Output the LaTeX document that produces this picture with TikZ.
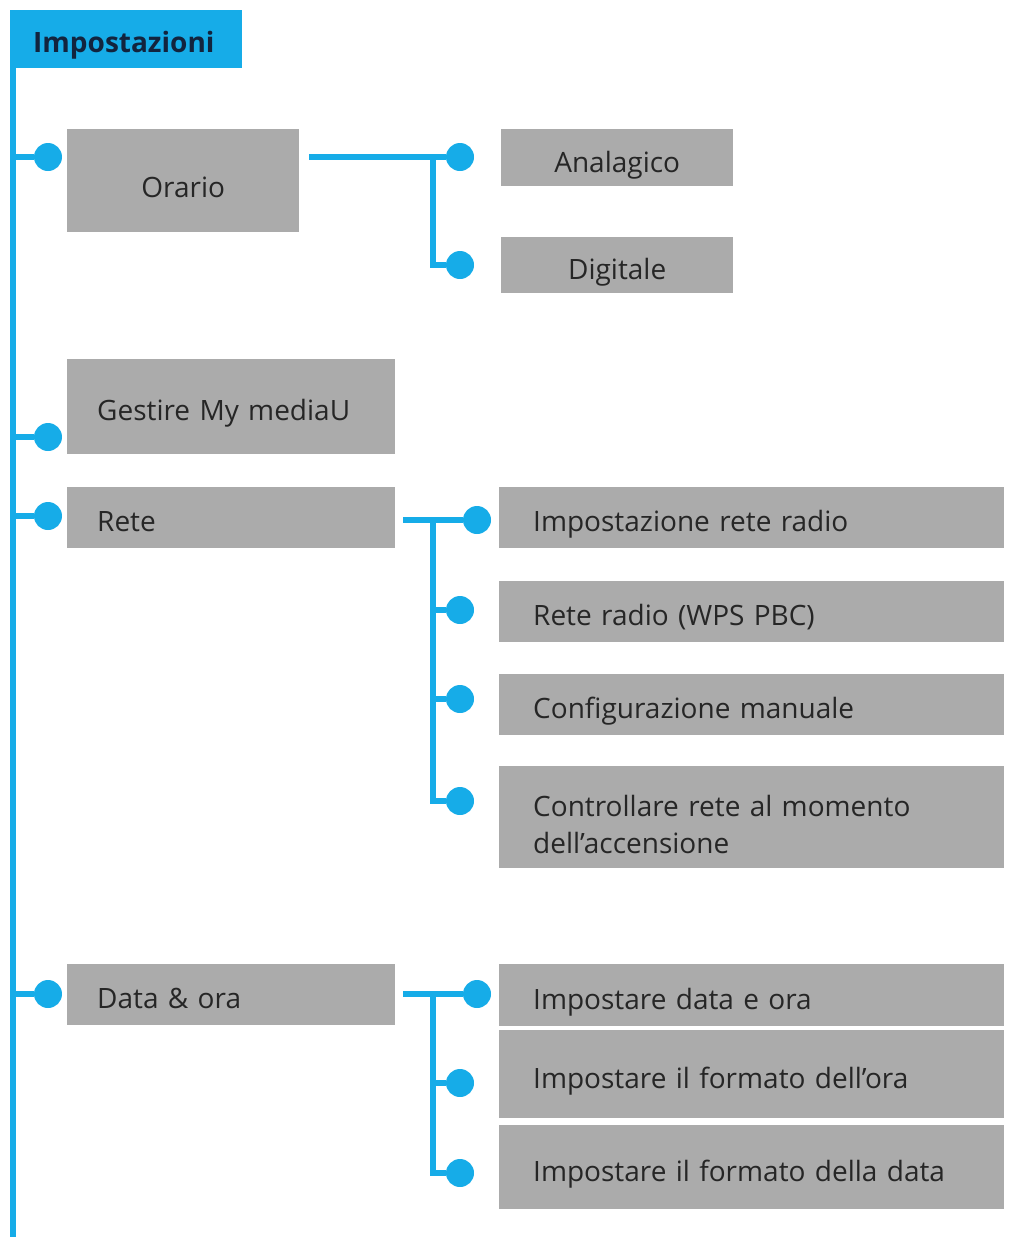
\documentclass[tikz,border=0pt]{standalone}
\usepackage{fontspec}
\setmainfont{Open Sans}
\usetikzlibrary{positioning}
\definecolor{menublue}{RGB}{22,172,232}
\definecolor{menugray}{RGB}{171,171,171}
\definecolor{menutext}{RGB}{38,38,38}
\definecolor{headtext}{RGB}{18,36,62}

\tikzset{
  item/.style={rectangle, fill=menugray, text=menutext, anchor=north west,
    inner xsep=30pt, inner ysep=0pt, align=left, text height=28pt, text depth=0pt,
    font=\fontsize{28}{37}\selectfont},
  subitem/.style={item, inner xsep=34pt, text width=437pt},
  dot/.style={circle, fill=menublue, inner sep=0pt, minimum size=28pt},
  wire/.style={menublue, line width=6pt},
}

\begin{document}
\begin{tikzpicture}[x=1pt, y=-1pt]
    \useasboundingbox (0,0) rectangle (1012,1237);

    % Define nodes
    \node [rectangle, fill=menublue, text=headtext, anchor=north west, inner xsep=23pt,
      minimum height=58pt, text width=186pt, align=left, text height=27pt, text depth=0pt,
      font=\fontsize{28}{32}\selectfont\bfseries] (settings) at (10,10) {Impostazioni};
    \coordinate (spine top) at (12.5,10);
    \coordinate (spine end) at (12.5,1237);

    \node [item, text width=172pt, minimum height=103pt, align=center, text height=34pt] (orario) at (67,129) {Orario};
    \node [item, text width=172pt, minimum height=57pt, align=center, text height=29pt] (analog) at (501,129) {Analagico};
    \node [item, text width=172pt, minimum height=56pt, align=center, text height=29pt] (digital) at (501,237) {Digitale};

    \node [item, text width=268pt, minimum height=95pt] (mediau) at (67,359) {Gestire My mediaU};
    \node [item, text width=268pt, minimum height=61pt] (rete) at (67,487) {Rete};
    \node [item, text width=268pt, minimum height=61pt] (dataora) at (67,964) {Data \& ora};

    \node [subitem, minimum height=61pt] (wlan) at (499,487) {Impostazione rete radio};
    \node [subitem, minimum height=61pt] (wps) at (499,581) {Rete radio (WPS PBC)};
    \node [subitem, minimum height=61pt] (manual) at (499,674) {Configurazione manuale};
    \node [subitem, minimum height=102pt, text depth=30pt] (check) at (499,766) {Controllare rete al momento\\dell’accensione};

    \node [subitem, minimum height=62pt] (setdate) at (499,964) {Impostare data e ora};
    \node [subitem, minimum height=88pt] (timefmt) at (499,1030) {Impostare il formato dell’ora};
    \node [subitem, minimum height=84pt] (datefmt) at (499,1125) {Impostare il formato della data};

    % Dots
    \node [dot] (d orario) at (48,157) {};
    \node [dot] (d mediau) at (48,437) {};
    \node [dot] (d rete) at (48,516) {};
    \node [dot] (d dataora) at (48,994) {};

    \node [dot] (d analog) at (460,157) {};
    \node [dot] (d digital) at (460,265) {};

    \node [dot] (d wlan) at (477,520) {};
    \node [dot] (d wps) at (460,610) {};
    \node [dot] (d manual) at (460,699) {};
    \node [dot] (d check) at (460,801) {};

    \node [dot] (d setdate) at (477,994) {};
    \node [dot] (d timefmt) at (460,1083) {};
    \node [dot] (d datefmt) at (460,1173) {};

    \coordinate (o start) at (309,157);
    \coordinate (o fork) at (433,157);
    \coordinate (r start) at (403,520);
    \coordinate (r fork) at (433,520);
    \coordinate (t start) at (403,994);
    \coordinate (t fork) at (433,994);

    % Draw edges
    \draw [wire] (spine top) -- (spine end);
    \foreach \d in {orario, mediau, rete, dataora}
        \draw [wire] (spine top |- d \d) -- (d \d);

    \draw [wire] (o start) -- (d analog);
    \draw [wire] (o fork) |- (d digital);

    \draw [wire] (r start) -- (d wlan);
    \draw [wire] (r fork) |- (d check);
    \draw [wire] (r fork |- d wps) -- (d wps);
    \draw [wire] (r fork |- d manual) -- (d manual);

    \draw [wire] (t start) -- (d setdate);
    \draw [wire] (t fork) |- (d datefmt);
    \draw [wire] (t fork |- d timefmt) -- (d timefmt);
\end{tikzpicture}
\end{document}
